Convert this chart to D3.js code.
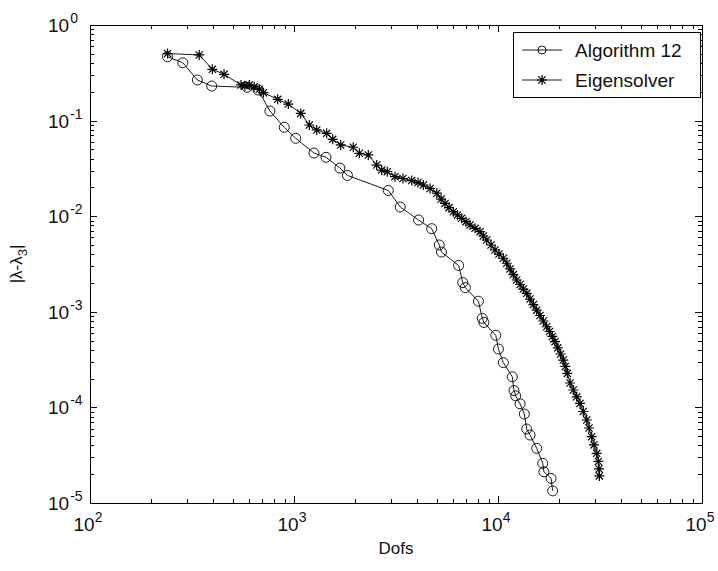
<!doctype html>
<html>
<head>
<meta charset="utf-8">
<title>Dofs vs error</title>
<style>
body { margin: 0; background: #fff; }
text { font-family: "Liberation Sans", Arial, sans-serif; fill: #111; }
</style>
<script src="https://cdn.jsdelivr.net/npm/d3@7"></script>
</head>
<body>
<svg width="718" height="571"></svg>
<script>
// Algorithm 12 (circles)
var dofsAlg = [240, 285, 336, 395, 589, 667, 762, 896, 1019, 1253, 1435, 1679, 1828, 2897, 3319,
    4083, 4731, 5152, 5283, 6412, 6714, 6918, 8017, 8375, 8531, 9750, 10050, 10620, 11750, 11980,
    12210, 12830, 13460, 13830, 14360, 15480, 16570, 16790, 18200, 18530];
var errAlg = [0.466, 0.403, 0.266, 0.230, 0.223, 0.209, 0.126, 0.0851, 0.0653, 0.0458, 0.0413, 0.0319,
    0.0267, 0.0186, 0.01248, 0.00912, 0.00740, 0.00500, 0.00422, 0.00305, 0.00202, 0.00179, 0.00129,
    0.000855, 0.000773, 0.000568, 0.000408, 0.000294, 0.000209, 0.000150, 0.000132, 0.000109,
    0.0000853, 0.0000594, 0.0000514, 0.0000373, 0.0000260, 0.0000212, 0.0000181, 0.0000134];

// Eigensolver (stars)
var dofsEig = [240, 343, 398, 454, 550, 575, 604, 638, 676, 708, 832, 938, 1079, 1189, 1292, 1446,
    1548, 1694, 1953, 2091, 2313, 2543, 2690, 2866, 3126, 3422, 3776, 4055, 4306, 4645, 5012, 5263,
    5500, 5754, 6040, 6327, 6637, 6966, 7295, 7716, 8166, 8475, 8805, 9245, 9668, 10110, 10620,
    11040, 11460, 11890, 12350, 12830, 13310, 13830, 14360, 14910, 15480, 16070, 16680, 17320,
    17890, 18470, 19030, 19640, 20250, 20890, 21380, 21880, 22560, 23400, 24310, 25240, 26190,
    27230, 27940, 28790, 29550, 30480, 31040, 31290, 31400];
var errEig = [0.503, 0.486, 0.344, 0.305, 0.236, 0.232, 0.236, 0.226, 0.213, 0.196, 0.167, 0.149,
    0.119, 0.0899, 0.0798, 0.0736, 0.0637, 0.0556, 0.0526, 0.0455, 0.0437, 0.0343, 0.0304, 0.0292,
    0.0259, 0.0248, 0.0236, 0.0225, 0.0212, 0.0195, 0.0174, 0.0151, 0.0136, 0.0123, 0.01114, 0.0103,
    0.00951, 0.00876, 0.00809, 0.00747, 0.00689, 0.00621, 0.00564, 0.00500, 0.00443, 0.00402,
    0.00363, 0.00322, 0.00281, 0.00245, 0.00215, 0.00193, 0.00173, 0.00156, 0.00136, 0.00119,
    0.00104, 0.000915, 0.000801, 0.000698, 0.000622, 0.000552, 0.000487, 0.000420, 0.000362,
    0.000313, 0.000268, 0.000227, 0.000180, 0.000152, 0.000129, 0.000110, 0.0000906, 0.0000738,
    0.0000609, 0.0000494, 0.0000405, 0.0000331, 0.0000272, 0.0000227, 0.0000192];

var xTickExps = [2, 3, 4, 5];
var yTickExps = [0, -1, -2, -3, -4, -5];
var seriesNames = ["Algorithm 12", "Eigensolver"];

var svg = d3.select("svg"),
    margin = { top: 25, right: 16, bottom: 68, left: 90 },
    width = svg.attr("width") - margin.left - margin.right,
    height = svg.attr("height") - margin.top - margin.bottom,
    g = svg.append("g").attr("transform", "translate(" + margin.left + "," + margin.top + ")");

var x = d3.scaleLog().domain([1e2, 1e5]).range([0, width]);
var y = d3.scaleLog().domain([1e-5, 1]).range([height, 0]);

var majorLen = 7, minorLen = 4;

// ticks on all four sides, pointing inwards
var xt = x.ticks();
var yt = y.ticks();
function isMajor(v) { return Math.abs(Math.log10(v) - Math.round(Math.log10(v))) < 1e-9; }

var ticks = g.append("g").attr("stroke", "#000").attr("stroke-width", 1);
xt.forEach(function(v) {
    var px = Math.round(x(v)) + 0.5, len = isMajor(v) ? majorLen : minorLen;
    ticks.append("line").attr("x1", px).attr("x2", px).attr("y1", height).attr("y2", height - len);
    ticks.append("line").attr("x1", px).attr("x2", px).attr("y1", 0).attr("y2", len);
});
yt.forEach(function(v) {
    var py = Math.round(y(v)) + 0.5, len = isMajor(v) ? majorLen : minorLen;
    ticks.append("line").attr("y1", py).attr("y2", py).attr("x1", 0).attr("x2", len);
    ticks.append("line").attr("y1", py).attr("y2", py).attr("x1", width).attr("x2", width - len);
});

g.append("rect")
    .attr("x", 0.5).attr("y", 0.5)
    .attr("width", width).attr("height", height)
    .attr("fill", "none").attr("stroke", "#000").attr("stroke-width", 1);

// tick labels
xTickExps.forEach(function(e) {
    var t = g.append("text")
        .attr("x", x(Math.pow(10, e)) - 2)
        .attr("y", height + 28)
        .attr("text-anchor", "middle")
        .style("font-size", "19px");
    t.append("tspan").text("10");
    t.append("tspan").attr("dy", -9).style("font-size", "14px").text(e);
});
yTickExps.forEach(function(e) {
    var t = g.append("text")
        .attr("x", -42)
        .attr("y", y(Math.pow(10, e)) + 7)
        .attr("text-anchor", "start")
        .style("font-size", "19px");
    t.append("tspan").text("10");
    t.append("tspan").attr("dy", -9).attr("dx", 1).style("font-size", "14px").text(e);
});

// axis titles
g.append("text")
    .attr("x", width / 2)
    .attr("y", height + 51)
    .attr("text-anchor", "middle")
    .style("font-size", "17px")
    .text("Dofs");

var yl = svg.append("text")
    .attr("transform", "translate(22," + (margin.top + height / 2) + ") rotate(-90)")
    .attr("text-anchor", "middle")
    .style("font-size", "17px");
yl.append("tspan").text("|\u03bb-\u03bb");
yl.append("tspan").attr("dy", 5).style("font-size", "13px").text("3");
yl.append("tspan").attr("dy", -5).text("|");

// series
var line = d3.line().x(function(d) { return x(d[0]); }).y(function(d) { return y(d[1]); });
var algData = d3.zip(dofsAlg, errAlg);
var eigData = d3.zip(dofsEig, errEig);

var starPath = "M-5,0H5M0,-5V5M-3.6,-3.6L3.6,3.6M-3.6,3.6L3.6,-3.6";

g.append("path").datum(algData)
    .attr("d", line).attr("fill", "none").attr("stroke", "#000").attr("stroke-width", 0.9);
g.selectAll(".circ").data(algData).enter().append("circle")
    .attr("class", "circ")
    .attr("cx", function(d) { return x(d[0]); })
    .attr("cy", function(d) { return y(d[1]); })
    .attr("r", 5)
    .attr("fill", "none").attr("stroke", "#000").attr("stroke-width", 0.9);

g.append("path").datum(eigData)
    .attr("d", line).attr("fill", "none").attr("stroke", "#000").attr("stroke-width", 0.9);
g.selectAll(".star").data(eigData).enter().append("path")
    .attr("class", "star")
    .attr("transform", function(d) { return "translate(" + x(d[0]) + "," + y(d[1]) + ")"; })
    .attr("d", starPath)
    .attr("fill", "none").attr("stroke", "#000").attr("stroke-width", 1.2);

// legend
var lg = svg.append("g").attr("transform", "translate(513,32)");
lg.append("rect").attr("x", 0.5).attr("y", 0.5).attr("width", 187).attr("height", 65)
    .attr("fill", "#fff").attr("stroke", "#000").attr("stroke-width", 1);
seriesNames.forEach(function(name, i) {
    var cy = 18 + i * 30;
    lg.append("line").attr("x1", 9).attr("x2", 49).attr("y1", cy).attr("y2", cy)
        .attr("stroke", "#000").attr("stroke-width", 0.9);
    if (i === 0) {
        lg.append("circle").attr("cx", 29).attr("cy", cy).attr("r", 4)
            .attr("fill", "none").attr("stroke", "#000").attr("stroke-width", 0.9);
    } else {
        lg.append("path").attr("transform", "translate(29," + cy + ")").attr("d", starPath)
            .attr("fill", "none").attr("stroke", "#000").attr("stroke-width", 1.2);
    }
    lg.append("text").attr("x", 62).attr("y", cy + 7)
        .style("font-size", "19px").text(name);
});
</script>
</body>
</html>
